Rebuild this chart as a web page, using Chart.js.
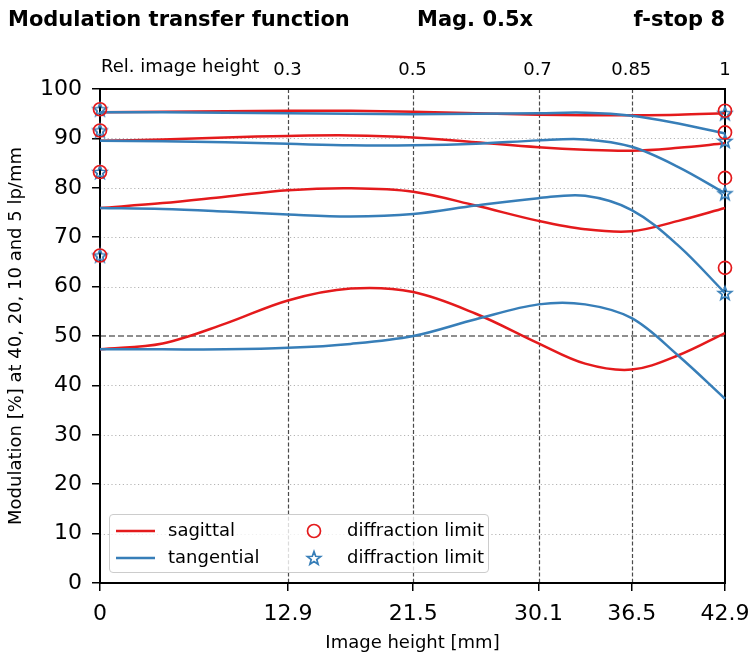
<!DOCTYPE html>
<html>
<head>
<meta charset="utf-8">
<script src="https://cdn.jsdelivr.net/npm/chart.js@4"></script>
<style>
  body { margin: 0; background: #fff; }
  #wrap { position: relative; width: 751px; height: 655px; font-family: "DejaVu Sans", sans-serif; }
  #mtf { position: absolute; left: 0; top: 0; }
  .hdr { position: absolute; top: 9px; font-size: 21px; line-height: 21px; font-weight: bold; white-space: nowrap; }
  #rel { position: absolute; left: 101px; top: 57px; font-size: 18px; line-height: 18px; white-space: nowrap; }
  #legend { position: absolute; left: 109px; top: 514px; width: 380px; height: 59px; box-sizing: border-box;
            border: 1px solid #cccccc; border-radius: 4px; background: rgba(255,255,255,0.8); }
  .lg { position: absolute; font-size: 18px; line-height: 18px; white-space: nowrap; }
  .sw { position: absolute; }
</style>
</head>
<body>
<div id="wrap">
  <canvas id="mtf" width="751" height="655"></canvas>
  <div class="hdr" style="left:8px">Modulation transfer function</div>
  <div class="hdr" style="left:417px">Mag. 0.5x</div>
  <div class="hdr" style="right:26px">f-stop 8</div>
  <div id="rel">Rel. image height</div>
  <div id="legend">
    <svg class="sw" style="left:6px;top:14px" width="40" height="4"><line x1="0" y1="2" x2="39" y2="2" stroke="#e41a1c" stroke-width="2.5"/></svg>
    <div class="lg" style="left:58px;top:6px">sagittal</div>
    <svg class="sw" style="left:6px;top:41px" width="40" height="4"><line x1="0" y1="2" x2="39" y2="2" stroke="#377eb8" stroke-width="2.5"/></svg>
    <div class="lg" style="left:58px;top:33px">tangential</div>
    <svg class="sw" style="left:195px;top:7px" width="18" height="18"><circle cx="9" cy="9" r="6.5" fill="none" stroke="#e41a1c" stroke-width="1.7"/></svg>
    <div class="lg" style="left:237px;top:6px">diffraction limit</div>
    <svg class="sw" id="legStar" style="left:195px;top:34px" width="18" height="18"></svg>
    <div class="lg" style="left:237px;top:33px">diffraction limit</div>
  </div>
</div>
<script>
// Achsen
const xTicks = [0, 12.9, 21.5, 30.1, 36.5, 42.9];
const relTicks = [0.3, 0.5, 0.7, 0.85, 1];
const markLines = [12.9, 21.5, 30.1, 36.5];
const refLevel = 50;

// Stützstellen der Kurven (mm)
const sampleX = [0, 4.3, 8.6, 12.9, 17.2, 21.5, 25.8, 30.1, 33.3, 36.5, 39.7, 42.9];

// 40 lp/mm
const sag40 = [47.3, 48.5, 52.5, 57.2, 59.6, 58.9, 54.5, 48.5, 44.4, 43.2, 46.1, 50.6];
const tan40 = [47.3, 47.3, 47.3, 47.6, 48.4, 50.0, 53.4, 56.4, 56.4, 53.6, 46.0, 37.3];
// 20 lp/mm
const sag20 = [75.9, 76.9, 78.2, 79.5, 79.9, 79.2, 76.4, 73.3, 71.6, 71.2, 73.3, 75.9];
const tan20 = [75.9, 75.7, 75.2, 74.6, 74.2, 74.7, 76.4, 77.9, 78.4, 75.5, 68.3, 58.7];
// 10 lp/mm
const sag10 = [89.5, 89.8, 90.2, 90.5, 90.6, 90.2, 89.2, 88.2, 87.7, 87.5, 88.1, 89.0];
const tan10 = [89.5, 89.4, 89.2, 88.9, 88.6, 88.6, 88.9, 89.6, 89.8, 88.3, 84.2, 78.9];
// 5 lp/mm
const sag5 = [95.3, 95.4, 95.5, 95.6, 95.6, 95.4, 95.1, 94.8, 94.7, 94.7, 94.8, 95.1];
const tan5 = [95.3, 95.3, 95.2, 95.1, 95.0, 94.9, 95.0, 95.1, 95.2, 94.6, 93.0, 91.0];

// Beugungsgrenze (Mitte und Rand)
const diffSagCenter = [95.9, 91.6, 83.2, 66.3];
const diffSagEdge = [95.6, 91.2, 82.0, 63.8];
const diffTanCenter = [95.9, 91.6, 83.2, 66.3];
const diffTanEdge = [95.1, 89.5, 78.9, 58.7];

const RED = '#e41a1c';
const BLUE = '#377eb8';

// Stern als Punktsymbol
function starPoints(cx, cy, ro, ri) {
  const pts = [];
  for (let i = 0; i < 10; i++) {
    const r = i % 2 === 0 ? ro : ri;
    const a = -Math.PI / 2 + i * Math.PI / 5;
    pts.push([cx + r * Math.cos(a), cy + r * Math.sin(a)]);
  }
  return pts;
}
const starImg = document.createElement('canvas');
starImg.width = 18; starImg.height = 18;
{
  const c = starImg.getContext('2d');
  c.beginPath();
  starPoints(9, 9.6, 7, 2.9).forEach((p, i) => i ? c.lineTo(p[0], p[1]) : c.moveTo(p[0], p[1]));
  c.closePath();
  c.strokeStyle = BLUE; c.lineWidth = 1.7;
  c.stroke();
}
{
  const ns = 'http://www.w3.org/2000/svg';
  const p = document.createElementNS(ns, 'polygon');
  p.setAttribute('points', starPoints(9, 9.6, 7, 2.9).map(q => q[0].toFixed(2) + ',' + q[1].toFixed(2)).join(' '));
  p.setAttribute('fill', 'none');
  p.setAttribute('stroke', BLUE);
  p.setAttribute('stroke-width', '1.7');
  document.getElementById('legStar').appendChild(p);
}

function toXY(ys) {
  return ys.map((y, i) => ({ x: sampleX[i], y: y }));
}
function lineSet(ys, color) {
  return {
    data: toXY(ys),
    showLine: true,
    borderColor: color,
    borderWidth: 2.5,
    pointRadius: 0,
    fill: false,
    tension: 0.35,
    clip: false
  };
}
function markerSet(center, edge, style, color) {
  const pts = center.map(v => ({ x: 0, y: v })).concat(edge.map(v => ({ x: 42.9, y: v })));
  return {
    data: pts,
    showLine: false,
    pointStyle: style,
    pointRadius: 6.5,
    pointBorderWidth: 1.7,
    pointBorderColor: color,
    pointBackgroundColor: 'rgba(0,0,0,0)',
    clip: false
  };
}

// Gitter und Rahmen
const frameGrid = {
  id: 'frameGrid',
  beforeDatasetsDraw(chart) {
    const { ctx, chartArea: a, scales } = chart;
    const y = scales.y, x = scales.x;
    ctx.save();
    // gepunktete Linien
    ctx.strokeStyle = '#b5b5b5';
    ctx.lineWidth = 1;
    ctx.setLineDash([1.2, 2.6]);
    for (let v = 10; v < 100; v += 10) {
      if (v === refLevel) continue;
      const py = Math.round(y.getPixelForValue(v)) + 0.5;
      ctx.beginPath(); ctx.moveTo(a.left, py); ctx.lineTo(a.right, py); ctx.stroke();
    }
    // 50 % Linie
    ctx.strokeStyle = '#6a6a6a';
    ctx.lineWidth = 1.6;
    ctx.setLineDash([6, 3]);
    const p50 = y.getPixelForValue(refLevel);
    ctx.beginPath(); ctx.moveTo(a.left, p50); ctx.lineTo(a.right, p50); ctx.stroke();
    // senkrechte Linien
    ctx.strokeStyle = '#4a4a4a';
    ctx.lineWidth = 1.2;
    ctx.setLineDash([4, 2.2]);
    markLines.forEach(v => {
      const px = Math.round(x.getPixelForValue(v)) + 0.5;
      ctx.beginPath(); ctx.moveTo(px, a.top); ctx.lineTo(px, a.bottom); ctx.stroke();
    });
    // Rahmen
    ctx.setLineDash([]);
    ctx.strokeStyle = '#000';
    ctx.lineWidth = 2;
    ctx.strokeRect(a.left, a.top, a.right - a.left, a.bottom - a.top);
    ctx.restore();
  }
};

const ctx = document.getElementById('mtf').getContext('2d');
new Chart(ctx, {
  type: 'scatter',
  data: {
    datasets: [
      markerSet(diffSagCenter, diffSagEdge, 'circle', RED),
      markerSet(diffTanCenter, diffTanEdge, starImg, BLUE),
      lineSet(tan40, BLUE), lineSet(sag40, RED),
      lineSet(tan20, BLUE), lineSet(sag20, RED),
      lineSet(tan10, BLUE), lineSet(sag10, RED),
      lineSet(tan5, BLUE), lineSet(sag5, RED)
    ]
  },
  options: {
    responsive: false,
    animation: false,
    layout: { padding: { left: 0, right: 26, top: 0, bottom: 0 } },
    plugins: { legend: { display: false }, tooltip: { enabled: false }, title: { display: false } },
    scales: {
      x: {
        type: 'linear', position: 'bottom', min: 0, max: 42.9,
        afterBuildTicks: s => { s.ticks = xTicks.map(v => ({ value: v })); },
        afterFit: s => { s.height = 72; s.paddingLeft = 0; s.paddingRight = 0; },
        ticks: { font: { family: 'DejaVu Sans', size: 22 }, color: '#000', padding: 10, maxRotation: 0,
                 callback: v => String(v) },
        grid: { drawOnChartArea: false, drawTicks: true, tickLength: 8, color: '#000', lineWidth: 1.5 },
        border: { display: false },
        title: { display: true, text: 'Image height [mm]', color: '#000',
                 font: { family: 'DejaVu Sans', size: 18 }, padding: { top: 2, bottom: 1 } }
      },
      x2: {
        type: 'linear', position: 'top', min: 0, max: 1,
        afterBuildTicks: s => { s.ticks = relTicks.map(v => ({ value: v })); },
        afterFit: s => { s.height = 89; s.paddingLeft = 0; s.paddingRight = 0; },
        ticks: { font: { family: 'DejaVu Sans', size: 18 }, color: '#000', padding: 0, maxRotation: 0,
                 callback: v => String(v) },
        grid: { display: false },
        border: { display: false }
      },
      y: {
        min: 0, max: 100,
        afterFit: s => { s.width = 100; s.paddingTop = 0; s.paddingBottom = 0; },
        ticks: { stepSize: 10, font: { family: 'DejaVu Sans', size: 22 }, color: '#000', padding: 10 },
        grid: { drawOnChartArea: false, drawTicks: true, tickLength: 8, color: '#000', lineWidth: 1.5 },
        border: { display: false },
        title: { display: true, text: 'Modulation [%] at 40, 20, 10 and 5 lp/mm', color: '#000',
                 font: { family: 'DejaVu Sans', size: 18 }, padding: { top: 6, bottom: 2 } }
      }
    }
  },
  plugins: [frameGrid]
});
</script>
</body>
</html>
